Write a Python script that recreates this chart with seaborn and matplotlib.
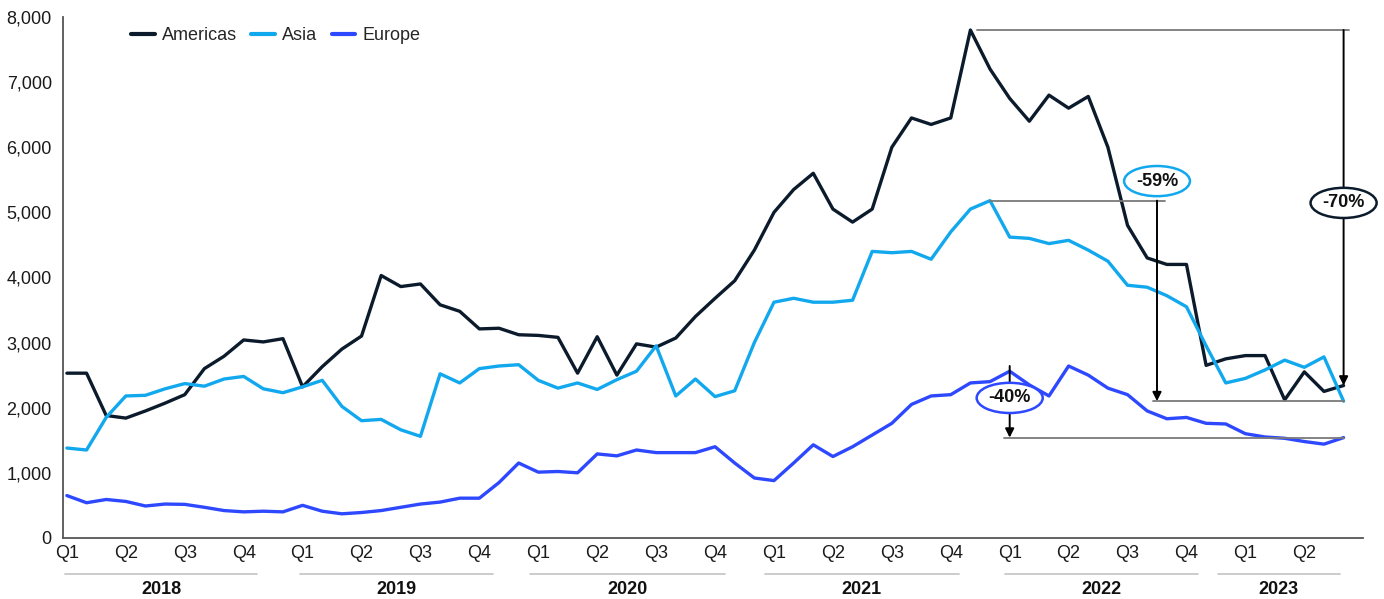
import numpy as np
import pandas as pd
import matplotlib
matplotlib.use("Agg")
import matplotlib.pyplot as plt
from matplotlib.transforms import blended_transform_factory
import seaborn as sns

# ---------------- data (monthly, Jan 2018 - Jun 2023) ----------------
americas = [2530, 2530, 1880, 1840, 1950, 2070, 2200, 2600, 2790, 3040, 3010, 3060,
            2320, 2630, 2900, 3100, 4030, 3860, 3900, 3580, 3480, 3210, 3220, 3120,
            3110, 3080, 2530, 3090, 2500, 2980, 2930, 3070, 3400, 3680, 3950, 4420,
            5000, 5350, 5600, 5050, 4850, 5050, 6000, 6450, 6350, 6450, 7800, 7200,
            6750, 6400, 6800, 6600, 6780, 6000, 4800, 4300, 4200, 4200, 2650, 2750,
            2800, 2800, 2120, 2550, 2250, 2340]
asia = [1380, 1350, 1850, 2180, 2190, 2290, 2370, 2330, 2440, 2480, 2290, 2230,
        2320, 2420, 2020, 1800, 1820, 1660, 1560, 2520, 2380, 2600, 2640, 2660,
        2420, 2300, 2380, 2280, 2430, 2560, 2950, 2180, 2440, 2170, 2260, 3000,
        3620, 3680, 3620, 3620, 3650, 4400, 4380, 4400, 4280, 4700, 5050, 5180,
        4620, 4600, 4520, 4570, 4420, 4250, 3880, 3850, 3720, 3550, 2950, 2380,
        2450, 2580, 2730, 2620, 2780, 2100]
europe = [650, 540, 590, 560, 490, 520, 515, 470, 420, 400, 410, 400,
          500, 410, 370, 390, 420, 470, 520, 550, 610, 610, 850, 1150,
          1010, 1020, 1000, 1290, 1260, 1350, 1310, 1310, 1310, 1400, 1150, 920,
          880, 1150, 1430, 1250, 1400, 1580, 1760, 2050, 2180, 2200, 2380, 2400,
          2560, 2350, 2180, 2640, 2500, 2300, 2200, 1950, 1830, 1850, 1760, 1750,
          1600, 1550, 1530, 1480, 1440, 1540]
regions = ["Americas", "Asia", "Europe"]
quarter_labels = ["Q1", "Q2", "Q3", "Q4"] * 5 + ["Q1", "Q2"]
years = ["2018", "2019", "2020", "2021", "2022", "2023"]
drop_labels = {"Americas": "-70%", "Asia": "-59%", "Europe": "-40%"}

# ---------------- styling ----------------
colors = {"Americas": "#0b1b2c", "Asia": "#12a8ee", "Europe": "#2d48ff"}
months = np.arange(len(americas))
df = pd.DataFrame({"month": np.tile(months, 3),
                   "value": americas + asia + europe,
                   "region": np.repeat(regions, len(americas))})

sns.set_theme(style="white")
plt.rcParams["font.family"] = ["Liberation Sans", "DejaVu Sans"]
FS = 13

fig = plt.figure(figsize=(13.84, 5.99), dpi=100)
ax = fig.add_axes([0.0455, 0.102, 0.9395, 0.8696])

sns.lineplot(data=df, x="month", y="value", hue="region", hue_order=regions,
             palette=colors, linewidth=2.4, ax=ax, legend=True)
for ln in ax.get_lines():
    ln.set_solid_joinstyle("round")
    ln.set_solid_capstyle("round")

ax.set_xlim(-0.2, 66)
ax.set_ylim(0, 8000)
ax.set_yticks(np.arange(0, 8001, 1000))
ax.set_yticklabels([f"{v:,}" for v in range(0, 8001, 1000)], fontsize=FS, color="#1a1a1a")
ax.set_xticks(np.arange(0, 3 * len(quarter_labels), 3))
ax.set_xticklabels(quarter_labels, fontsize=FS, color="#1a1a1a")
ax.tick_params(axis="both", length=0)
ax.tick_params(axis="y", pad=8)
ax.tick_params(axis="x", pad=5)
ax.set_xlabel("")
ax.set_ylabel("")
for s in ["top", "right"]:
    ax.spines[s].set_visible(False)
for s in ["left", "bottom"]:
    ax.spines[s].set_color("#555555")
    ax.spines[s].set_linewidth(1.3)

leg = ax.legend(loc="upper left", bbox_to_anchor=(0.04, 1.012), ncol=3, frameon=False,
                fontsize=FS, handlelength=1.3, handletextpad=0.4, columnspacing=0.8)
for h in leg.get_lines():
    h.set_linewidth(3)

# ---------------- year groups below the quarter labels ----------------
spans = [(-0.1, 9.7), (11.85, 21.7), (23.6, 33.5), (35.55, 45.4), (47.75, 57.6), (58.6, 64.8)]
trans = blended_transform_factory(ax.transData, fig.transFigure)
for yr, (a, b) in zip(years, spans):
    ax.plot([a, b], [1 - 574 / 599] * 2, transform=trans, color="#c8c8c8", lw=1.3,
            clip_on=False)
    ax.text((a + b) / 2, 1 - 590 / 599, yr, transform=trans, ha="center", va="center",
            fontsize=FS, fontweight="bold", color="#111111")

# ---------------- drop annotations ----------------
grey = "#7a7a7a"
arrow = dict(arrowstyle="-|>", color="black", lw=1.4, mutation_scale=13,
             shrinkA=0, shrinkB=0)

def bubble(x, y, text, ec):
    ax.text(x, y, text, ha="center", va="center", fontsize=FS, fontweight="bold",
            color="#111111", zorder=6,
            bbox=dict(boxstyle="ellipse,pad=0.12", fc="white", ec=ec, lw=1.8))

# Americas
a_peak, a_end = max(americas), americas[-1]
a_pk = int(np.argmax(americas))
ax.plot([a_pk + 0.35, 65.3], [a_peak, a_peak], color=grey, lw=1.3, zorder=3)
ax.annotate("", xy=(65.0, a_end), xytext=(65.0, a_peak), arrowprops=arrow, zorder=4)
bubble(65.0, 5145, drop_labels["Americas"], colors["Americas"])

# Asia
s_peak, s_end = max(asia), asia[-1]
ax.plot([47.0, 55.9], [s_peak, s_peak], color=grey, lw=1.3, zorder=3)
ax.annotate("", xy=(55.5, s_end), xytext=(55.5, s_peak), arrowprops=arrow, zorder=4)
ax.plot([55.3, 65.0], [s_end, s_end], color=grey, lw=1.3, zorder=3)
bubble(55.5, 5480, drop_labels["Asia"], colors["Asia"])

# Europe
e_pk = int(np.argmax(europe))
e_peak, e_end = europe[e_pk], europe[-1]
ax.annotate("", xy=(48.0, e_end), xytext=(48.0, e_peak), arrowprops=arrow, zorder=4)
ax.plot([47.7, 65.0], [e_end, e_end], color=grey, lw=1.3, zorder=3)
bubble(48.0, 2150, drop_labels["Europe"], colors["Europe"])

fig.savefig("out.png", dpi=100)
